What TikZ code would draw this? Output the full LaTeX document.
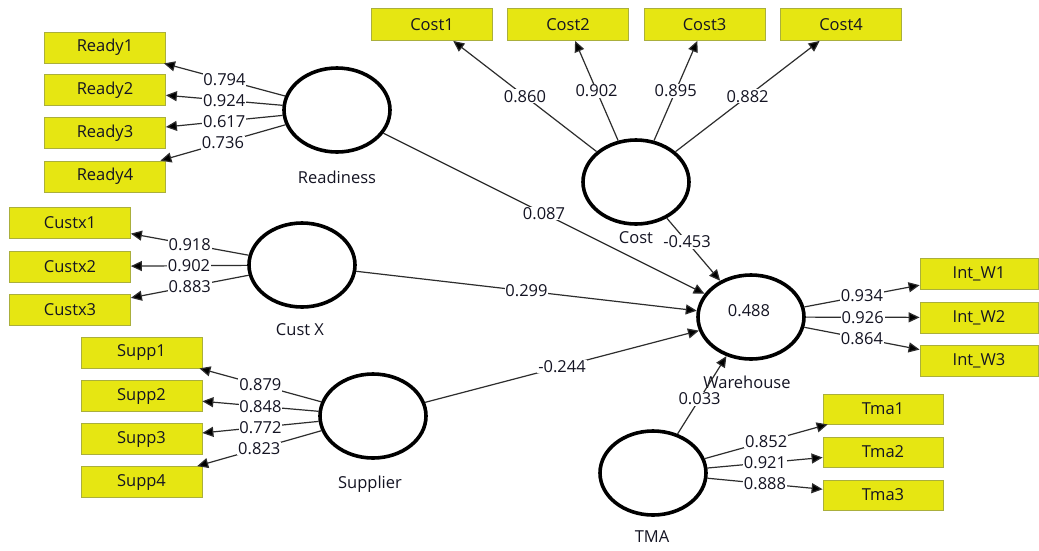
\documentclass[tikz,border=0pt]{standalone}
\usepackage{fontspec}
\setmainfont{Open Sans}
\usetikzlibrary{shapes.geometric,arrows.meta}
\definecolor{boxy}{RGB}{230,230,18}
\definecolor{boxedge}{RGB}{170,175,60}
\definecolor{linec}{RGB}{45,45,45}
\definecolor{txt}{RGB}{20,20,35}
\newcommand\fsz{\fontsize{16.5}{18}\selectfont}
\tikzset{
  lv/.style={ellipse, draw=black, line width=3.6pt, minimum width=106pt, minimum height=84pt, inner sep=0pt},
  ind/.style={rectangle, fill=boxy, draw=boxedge, line width=0.8pt, minimum width=121pt, minimum height=31pt, inner sep=0pt, font=\fsz, text=txt},
  lab/.style={fill=white, inner sep=0.8pt, font=\fsz, text=txt},
  nm/.style={font=\fsz, text=txt, inner sep=0pt},
  conn/.style={draw=linec, line width=1.2pt, -{Triangle[length=11pt,width=10pt,fill=black]}}
}
\begin{document}
\begin{tikzpicture}[x=1pt,y=-1pt]
\useasboundingbox[fill=white] (0,0) rectangle (1039,550);
% latent variables
\node[lv] (readiness) at (337,110) {};
\node[lv] (custx) at (302,265) {};
\node[lv] (supplier) at (373,416) {};
\node[lv] (cost) at (636,182) {};
\node[lv] (wh) at (751,317) {};
\node[lv] (tma) at (653,473) {};
% latent labels
\node[nm] (lreadiness) at (337,177) {Readiness};
\node[nm] (lcustx) at (300,330) {Cust X};
\node[nm] (lsupplier) at (370,484) {Supplier};
\node[nm] (lcost) at (636,238) {Cost};
\node[nm] (lwh) at (747,382) {Warehouse};
\node[nm] (ltma) at (652,537) {TMA};
\node[nm] (whval) at (749,311) {0.488};
% indicators
\node[ind] (r1) at (105,47.5) {Ready1};
\node[ind] (r2) at (105,90) {Ready2};
\node[ind] (r3) at (105,133) {Ready3};
\node[ind] (r4) at (105,176.5) {Ready4};
\node[ind] (c1) at (70,222.5) {Custx1};
\node[ind] (c2) at (70,266.5) {Custx2};
\node[ind] (c3) at (70,309.5) {Custx3};
\node[ind] (s1) at (141.5,352.5) {Supp1};
\node[ind] (s2) at (141.5,396) {Supp2};
\node[ind] (s3) at (141.5,439) {Supp3};
\node[ind] (s4) at (141.5,482) {Supp4};
\node[ind, minimum height=32pt] (k1) at (432,24.5) {Cost1};
\node[ind, minimum height=32pt] (k2) at (568,24.5) {Cost2};
\node[ind, minimum height=32pt] (k3) at (704.5,24.5) {Cost3};
\node[ind, minimum height=32pt] (k4) at (841,24.5) {Cost4};
\node[ind, minimum width=118pt] (w1) at (979,274) {Int\_W1};
\node[ind, minimum width=118pt] (w2) at (979,317.5) {Int\_W2};
\node[ind, minimum width=118pt] (w3) at (979,361) {Int\_W3};
\node[ind, minimum width=120pt, minimum height=30pt] (t1) at (883,409) {Tma1};
\node[ind, minimum width=120pt, minimum height=30pt] (t2) at (883,452) {Tma2};
\node[ind, minimum width=120pt, minimum height=30pt] (t3) at (883,495) {Tma3};
% outer loadings
\draw[conn] (readiness) -- node[lab]{0.794} (r1);
\draw[conn] (readiness) -- node[lab]{0.924} (r2);
\draw[conn] (readiness) -- node[lab]{0.617} (r3);
\draw[conn] (readiness) -- node[lab]{0.736} (r4);
\draw[conn] (custx) -- node[lab]{0.918} (c1);
\draw[conn] (custx) -- node[lab]{0.902} (c2);
\draw[conn] (custx) -- node[lab]{0.883} (c3);
\draw[conn] (supplier) -- node[lab]{0.879} (s1);
\draw[conn] (supplier) -- node[lab]{0.848} (s2);
\draw[conn] (supplier) -- node[lab]{0.772} (s3);
\draw[conn] (supplier) -- node[lab]{0.823} (s4);
\draw[conn] (cost) -- node[lab]{0.860} (k1);
\draw[conn] (cost) -- node[lab]{0.902} (k2);
\draw[conn] (cost) -- node[lab]{0.895} (k3);
\draw[conn] (cost) -- node[lab]{0.882} (k4);
\draw[conn] (wh) -- node[lab]{0.934} (w1);
\draw[conn] (wh) -- node[lab]{0.926} (w2);
\draw[conn] (wh) -- node[lab]{0.864} (w3);
\draw[conn] (tma) -- node[lab]{0.852} (t1);
\draw[conn] (tma) -- node[lab]{0.921} (t2);
\draw[conn] (tma) -- node[lab]{0.888} (t3);
% structural paths
\draw[conn] (readiness) -- node[lab]{0.087} (wh);
\draw[conn] (custx) -- node[lab]{0.299} (wh);
\draw[conn] (supplier) -- node[lab]{-0.244} (wh);
\draw[conn] (cost) -- node[lab, pos=0.38]{-0.453} (wh);
\draw[conn] (tma) -- node[lab, pos=0.45]{0.033} (wh);
\end{tikzpicture}
\end{document}
